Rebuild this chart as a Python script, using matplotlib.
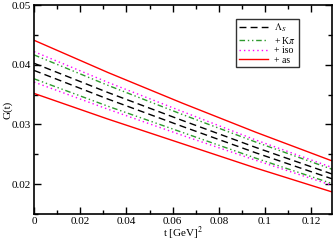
import numpy as np
import matplotlib
matplotlib.use("Agg")
import matplotlib.pyplot as plt
from matplotlib.ticker import MultipleLocator

plt.rcParams['font.family'] = ['Liberation Serif', 'DejaVu Serif']
plt.rcParams['mathtext.fontset'] = 'stix'

# t values (GeV^2) and central G(t)
t = [0.0, 0.032, 0.064, 0.096, 0.129]
g_central = [0.03965, 0.0348, 0.0302, 0.0257, 0.0213]

# half widths of the error bands at the same t values
half_as = [0.00445, 0.0039, 0.0034, 0.0030, 0.0026]
half_iso = [0.00255, 0.00225, 0.0020, 0.0017, 0.0015]
half_kpi = [0.0020, 0.00175, 0.0015, 0.00135, 0.0012]
half_lam = [0.0006, 0.00055, 0.0005, 0.00045, 0.0004]

bands = [
    (r"$\Lambda_S$", half_lam, "black", (0, (5, 3))),
    (r"+ K$\pi$", half_kpi, "#2e9a2e", (0, (4, 2, 1, 2, 1, 2))),
    ("+ iso", half_iso, "#ff00ff", (0, (1, 2.2))),
    ("+ as", half_as, "red", "-"),
]

fig = plt.figure(figsize=(3.34, 2.41), dpi=100)
ax = fig.add_axes([0.102, 0.112, 0.892, 0.867])

c = np.array(g_central)
for label, half, col, ls in bands:
    h = np.array(half)
    ax.plot(t, c + h, color=col, ls=ls, lw=1.0, label=label)
    ax.plot(t, c - h, color=col, ls=ls, lw=1.0)

ax.set_xlim(0, 0.129)
ax.set_ylim(0.015, 0.05)
ax.xaxis.set_major_locator(MultipleLocator(0.02))
ax.xaxis.set_minor_locator(MultipleLocator(0.01))
ax.yaxis.set_major_locator(MultipleLocator(0.01))
ax.yaxis.set_minor_locator(MultipleLocator(0.005))
ax.set_xticks([0, 0.02, 0.04, 0.06, 0.08, 0.1, 0.12])
ax.set_xticklabels(["0", "0.02", "0.04", "0.06", "0.08", "0.1", "0.12"])
ax.set_yticks([0.02, 0.03, 0.04, 0.05])
ax.set_yticklabels(["0.02", "0.03", "0.04", "0.05"])
ax.tick_params(which='both', direction='in', top=True, right=True,
               labelsize=8, width=1.0)
ax.tick_params(axis='x', pad=2)
ax.tick_params(axis='y', pad=2)
ax.tick_params(which='major', length=5)
ax.tick_params(which='minor', length=3)
for s in ax.spines.values():
    s.set_linewidth(1.2)

ax.set_xlabel("t [GeV]$^2$", fontsize=8)
ax.xaxis.set_label_coords(0.5, -0.05)
ax.set_ylabel("G(t)", fontsize=8)
ax.yaxis.set_label_coords(-0.072, 0.5)

leg = ax.legend(loc='upper right', bbox_to_anchor=(0.89, 0.935), fontsize=7,
                frameon=True, fancybox=False, edgecolor='black',
                handlelength=3.0, handletextpad=0.6, labelspacing=0.05,
                borderpad=0.3, borderaxespad=0)
leg.get_frame().set_linewidth(1.0)

fig.savefig("out.png", dpi=100)
